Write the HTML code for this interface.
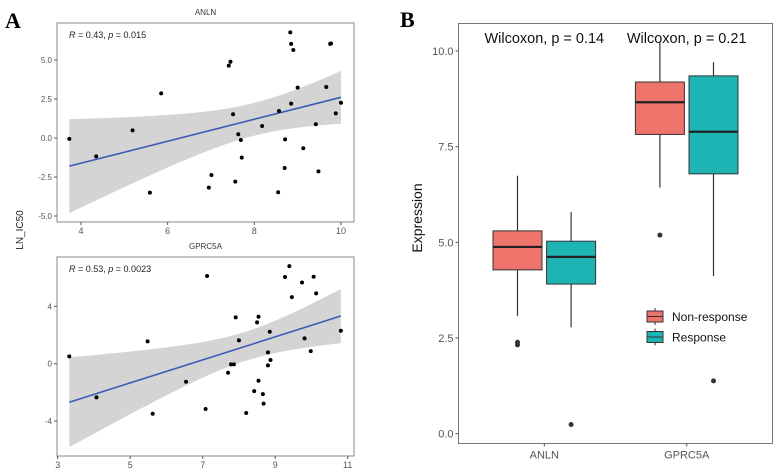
<!DOCTYPE html>
<html><head><meta charset="utf-8"><style>
html,body{margin:0;padding:0;background:#fff}
svg{display:block;font-family:"Liberation Sans",Arial,sans-serif}
</style></head><body>
<svg id="chart" width="780" height="475" viewBox="0 0 780 475" xmlns="http://www.w3.org/2000/svg">
<text x="5" y="28" font-family="Liberation Serif,serif" font-weight="bold" font-size="22">A</text>
<text x="400" y="27" font-family="Liberation Serif,serif" font-weight="bold" font-size="22">B</text>
<text transform="translate(23,230) rotate(-90)" text-anchor="middle" font-size="10" fill="#222">LN_IC50</text>
<text transform="translate(422,218) rotate(-90)" text-anchor="middle" font-size="14" fill="#111">Expression</text>
<g id="pA1"></g>
<g id="pA2"></g>
<g id="pB"></g>
</svg>
<script>
// ANLN scatter data
const anlnX = [3.73,4.35,5.19,5.85,5.59,6.95,7.01,7.41,7.45,7.51,7.56,7.63,7.69,7.71,8.18,8.55,8.57,8.71,8.70,8.83,8.85,8.85,8.90,9.0,9.13,9.42,9.48,9.66,9.75,9.77,9.88,10.0];
const anlnY = [-0.06,-1.18,0.49,2.86,-3.5,-3.18,-2.37,4.64,4.89,1.52,-2.8,0.24,-0.13,-1.26,0.77,-3.48,1.73,-0.09,-1.92,6.77,6.03,2.2,5.64,3.23,-0.66,0.88,-2.14,3.27,6.03,6.06,1.58,2.26];
const anlnXTicks = [4,6,8,10];
const anlnYTicks = [-5,-2.5,0,2.5,5];
const anlnYTickLabels = ["-5.0","-2.5","0.0","2.5","5.0"];
// GPRC5A scatter data
const gprcX = [3.32,4.07,5.48,5.62,6.54,7.12,7.08,7.70,7.78,7.86,7.91,8.0,8.20,8.42,8.50,8.54,8.54,8.66,8.68,8.80,8.80,8.85,8.87,9.27,9.39,9.46,9.74,9.81,9.98,10.06,10.13,10.81];
const gprcY = [0.51,-2.35,1.56,-3.49,-1.26,6.12,-3.16,-0.63,-0.05,-0.05,3.23,1.63,-3.44,-1.91,2.88,3.28,-1.19,-2.12,-2.79,0.79,-0.12,2.23,0.26,6.05,6.81,4.65,5.67,1.77,0.88,6.07,4.91,2.30];
const gprcXTicks = [3,5,7,9,11];
const gprcYTicks = [-4,0,4];
// Boxplot data
const boxGenes = ["ANLN","GPRC5A"];
const boxGroups = ["Non-response","Response"];
const boxLow = [[3.08,2.78],[6.43,4.12]];
const boxQ1 = [[4.28,3.91],[7.82,6.79]];
const boxMed = [[4.88,4.62],[8.66,7.89]];
const boxQ3 = [[5.30,5.03],[9.19,9.35]];
const boxHigh = [[6.74,5.79],[10.24,9.71]];
const boxOutliers = [[[2.39,2.32],[0.24]],[[5.19],[1.38]]];
const boxPvals = ["Wilcoxon, p = 0.14","Wilcoxon, p = 0.21"];
const boxYTicks = [0,2.5,5,7.5,10];
const boxYTickLabels = ["0.0","2.5","5.0","7.5","10.0"];

const NS="http://www.w3.org/2000/svg";
function mk(parent,tag,attrs,text){const e=document.createElementNS(NS,tag);for(const k in attrs)e.setAttribute(k,attrs[k]);if(text!==undefined)e.textContent=text;parent.appendChild(e);return e;}

function scatter(gid,xs,ys,xt,yt,ytl,fr,xd,yd,title,stat){
  const g=document.getElementById(gid);
  const sx=v=>fr.x0+(v-xd[0])/(xd[1]-xd[0])*(fr.x1-fr.x0);
  const sy=v=>fr.y1-(v-yd[0])/(yd[1]-yd[0])*(fr.y1-fr.y0);
  const n=xs.length;let mx=0,my=0;xs.forEach((v,i)=>{mx+=v;my+=ys[i]});mx/=n;my/=n;
  let sxx=0,sxy=0;xs.forEach((v,i)=>{sxx+=(v-mx)**2;sxy+=(v-mx)*(ys[i]-my)});
  const b=sxy/sxx,a=my-b*mx;let sse=0;xs.forEach((v,i)=>{sse+=(ys[i]-a-b*v)**2});
  const s=Math.sqrt(sse/(n-2)),t=2.04;
  const xmin=Math.min(...xs),xmax=Math.max(...xs);
  let up=[],lo=[];
  for(let k=0;k<=40;k++){const x=xmin+(xmax-xmin)*k/40;const f=a+b*x;const se=t*s*Math.sqrt(1/n+(x-mx)**2/sxx);up.push([sx(x),sy(f+se)]);lo.push([sx(x),sy(f-se)]);}
  const pts=up.concat(lo.reverse()).map(p=>p.join(',')).join(' ');
  const band=mk(g,'polygon',{points:pts,fill:'#d4d4d4'});
  
  
  const ln=mk(g,'line',{x1:sx(xmin),y1:sy(a+b*xmin),x2:sx(xmax),y2:sy(a+b*xmax),stroke:'#3a5bb5','stroke-width':1.6});
  
  
  xs.forEach((v,i)=>{const c=mk(g,'circle',{cx:sx(v),cy:sy(ys[i]),r:2,fill:'#000'});
    
    });
  const fb=mk(g,'rect',{x:fr.x0,y:fr.y0,width:fr.x1-fr.x0,height:fr.y1-fr.y0,fill:'none',stroke:'#888','stroke-width':1});
  
  
  const tt=mk(g,'text',{x:(fr.x0+fr.x1)/2,y:fr.y0-8,'text-anchor':'middle','font-size':8,fill:'#333'},title);
  
  
  const st=mk(g,'text',{x:fr.x0+12,y:fr.y0+15,'font-size':9,fill:'#222'});
  st.innerHTML='<tspan font-style="italic">R</tspan> = '+stat[0]+', <tspan font-style="italic">p</tspan> = '+stat[1];
  
  
  xt.forEach(v=>{mk(g,'line',{x1:sx(v),x2:sx(v),y1:fr.y1,y2:fr.y1+3,stroke:'#555'});
    const l=mk(g,'text',{x:sx(v),y:fr.y1+12,'text-anchor':'middle','font-size':9,fill:'#555'},String(v));
    
    });
  yt.forEach((v,i)=>{mk(g,'line',{x1:fr.x0-3,x2:fr.x0,y1:sy(v),y2:sy(v),stroke:'#555'});
    const l=mk(g,'text',{x:fr.x0-5,y:sy(v)+3,'text-anchor':'end','font-size':8,fill:'#555'},ytl[i]);
    
    });
}
(function(){
 const xd=[4-(81-57)/43.33,4+(354-81)/43.33];
 const yd=[-(222-138)/15.6,(138-23)/15.6];
 scatter('pA1',anlnX,anlnY,anlnXTicks,anlnYTicks,anlnYTickLabels,{x0:57,x1:354,y0:23,y1:222},xd,yd,'ANLN',['0.43','0.015']);
 const xd2=[3-(57.7-57)/36.25,3+(354-57.7)/36.25];
 const yd2=[-(456-363.7)/14.33,(363.7-257)/14.33];
 scatter('pA2',gprcX,gprcY,gprcXTicks,gprcYTicks,gprcYTicks.map(String),{x0:57,x1:354,y0:257,y1:456},xd2,yd2,'GPRC5A',['0.53','0.0023']);
 // Boxplot
 const g=document.getElementById('pB');
 const fr={x0:458.5,x1:772.5,y0:23.5,y1:443.5};
 const sy=v=>433.7-v*38.27;
 const gx=[544.3,686.7],dodge=26.8,hw=24.5;
 const cols=['#EE736A','#1EB4B4'];
 const fb=mk(g,'rect',{x:fr.x0,y:fr.y0,width:fr.x1-fr.x0,height:fr.y1-fr.y0,fill:'none',stroke:'#777'});
 
 
 boxGenes.forEach((gn,i)=>{
  boxGroups.forEach((gr,j)=>{
   const cx=gx[i]+(j?dodge:-dodge);
   const wl=mk(g,'line',{x1:cx,x2:cx,y1:sy(boxHigh[i][j]),y2:sy(boxLow[i][j]),stroke:'#333','stroke-width':1.2});
   
   
   const r=mk(g,'rect',{x:cx-hw,y:sy(boxQ3[i][j]),width:2*hw,height:sy(boxQ1[i][j])-sy(boxQ3[i][j]),fill:cols[j],stroke:'#333','stroke-width':1});
   
   
   const m=mk(g,'line',{x1:cx-hw,x2:cx+hw,y1:sy(boxMed[i][j]),y2:sy(boxMed[i][j]),stroke:'#222','stroke-width':2.2});
   
   
   boxOutliers[i][j].forEach(v=>{const c=mk(g,'circle',{cx:cx,cy:sy(v),r:2.5,fill:'#333'});
    
    });
  });
  const pt=mk(g,'text',{x:gx[i],y:43,'text-anchor':'middle','font-size':14.5,fill:'#111'},boxPvals[i]);
  
  
  mk(g,'line',{x1:gx[i],x2:gx[i],y1:fr.y1,y2:fr.y1+3,stroke:'#555'});
  const xl=mk(g,'text',{x:gx[i],y:fr.y1+15,'text-anchor':'middle','font-size':11,fill:'#555'},gn);
  
  
 });
 boxYTicks.forEach((v,i)=>{mk(g,'line',{x1:fr.x0-3,x2:fr.x0,y1:sy(v),y2:sy(v),stroke:'#555'});
  const l=mk(g,'text',{x:fr.x0-5,y:sy(v)+4,'text-anchor':'end','font-size':11,fill:'#555'},boxYTickLabels[i]);
  
  });
 boxGroups.forEach((gr,j)=>{
  const y=311+j*20.5;
  const lg=mk(g,'g',{});
  
  
  mk(lg,'line',{x1:655,x2:655,y1:y-3,y2:y+14,stroke:'#333'});
  mk(lg,'rect',{x:647,y:y,width:16,height:11,fill:cols[j],stroke:'#333'});
  mk(lg,'line',{x1:647,x2:663,y1:y+5.5,y2:y+5.5,stroke:'#333'});
  mk(lg,'text',{x:672,y:y+10,'font-size':12,fill:'#111'},gr);
 });
})();
</script>
</body></html>
